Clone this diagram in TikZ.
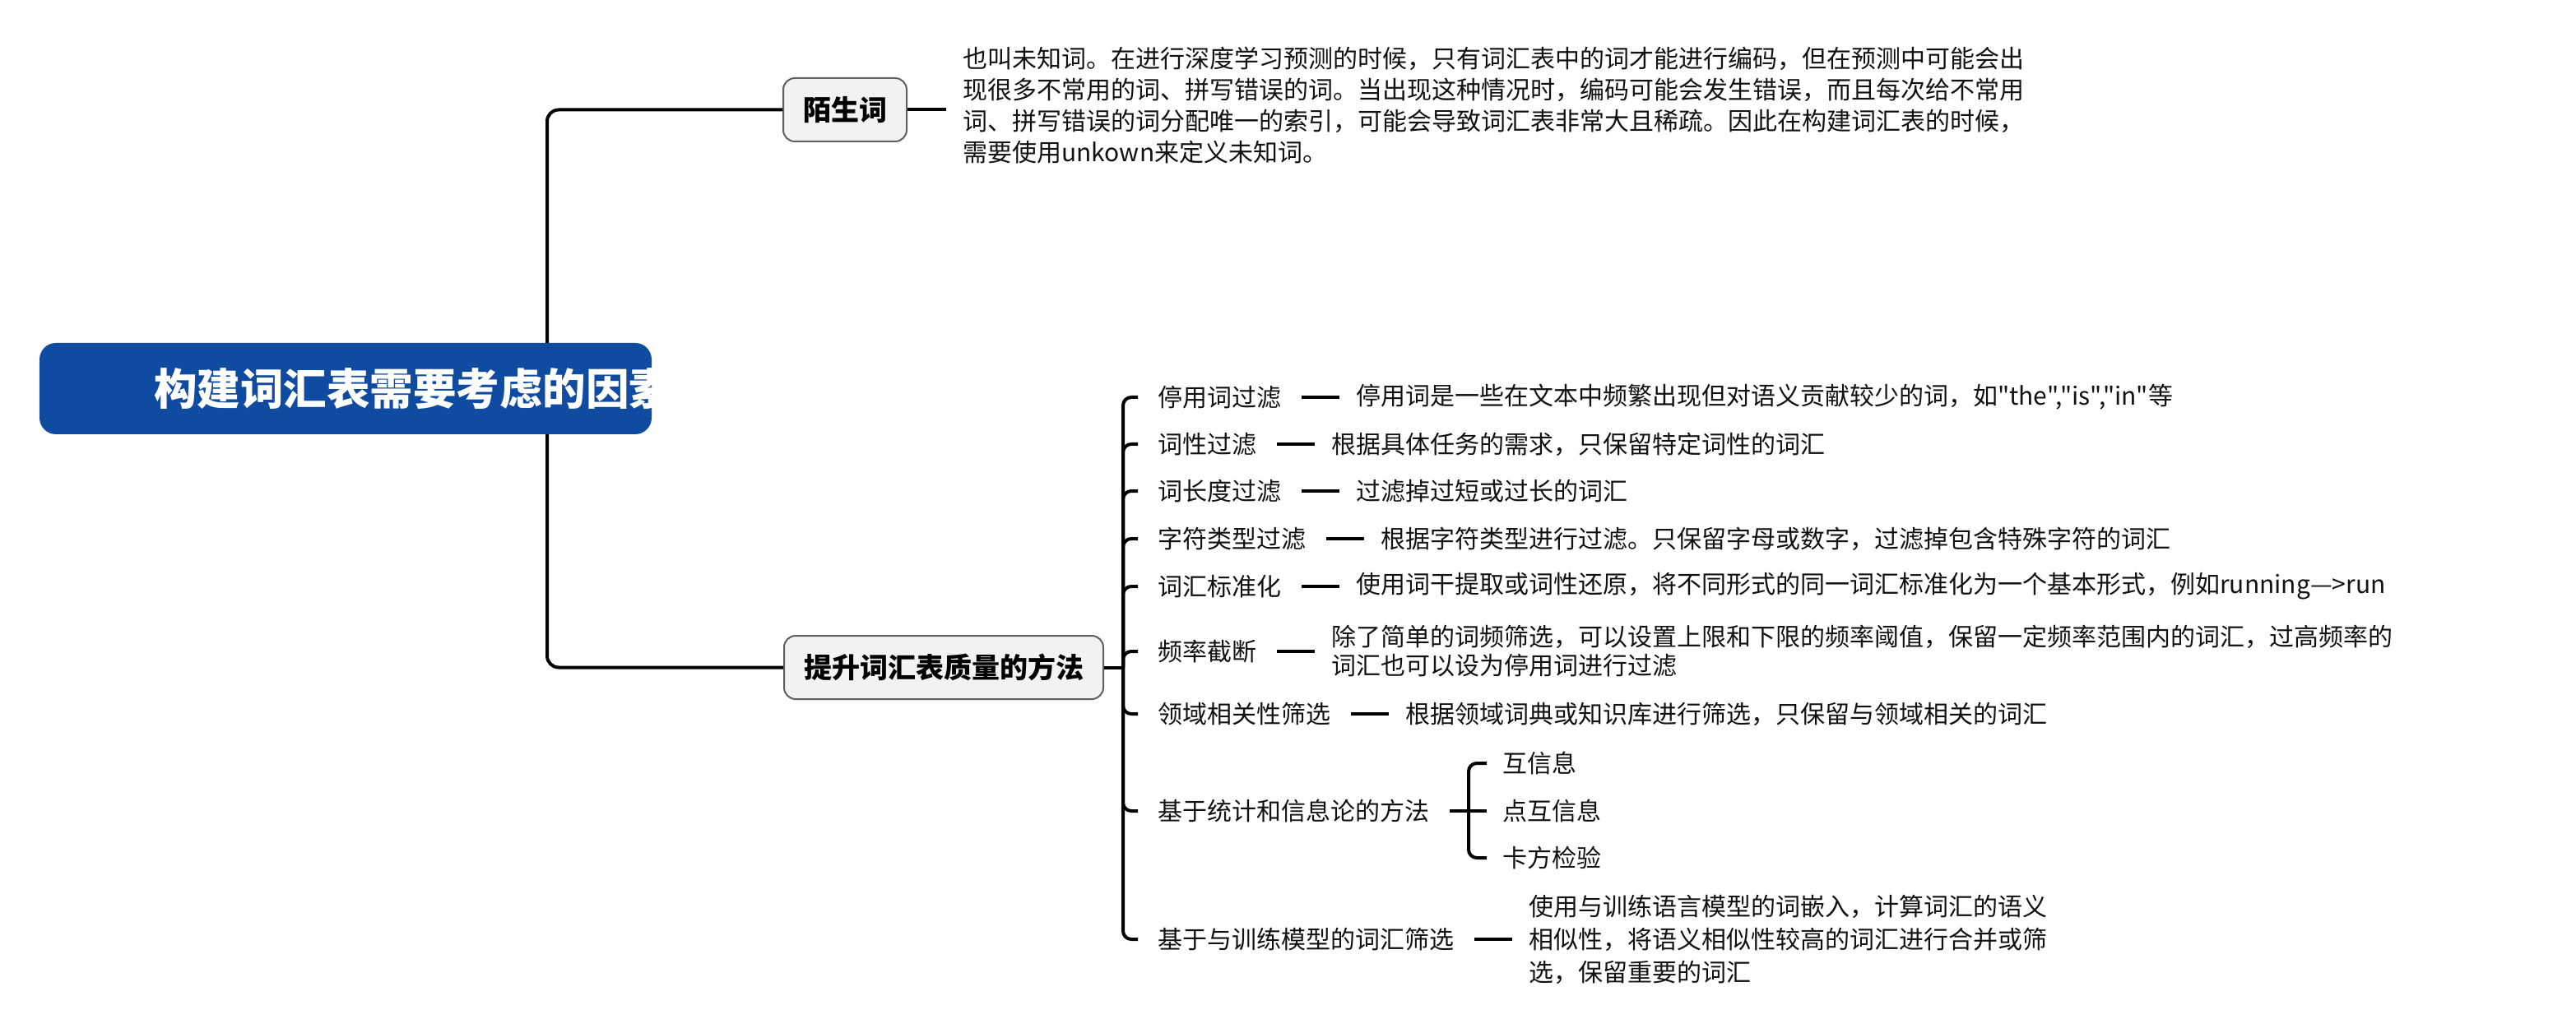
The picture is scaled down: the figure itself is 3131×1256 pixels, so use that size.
\documentclass[tikz,border=0pt]{standalone}
\usepackage{fontspec}
\setmainfont{Noto Sans CJK SC}[Ligatures=TeXOff]
\usetikzlibrary{positioning}
\definecolor{rootblue}{HTML}{0F4BA1}
\definecolor{boxfill}{HTML}{F2F2F2}
\definecolor{boxline}{HTML}{5F5F5F}
\definecolor{ink}{HTML}{111111}
\begin{document}
\begin{tikzpicture}[x=0.5pt,y=-0.5pt,
  conn/.style={line width=2pt, black},
  branchbox/.style={draw=boxline, line width=1pt, fill=boxfill, rounded corners=7pt,
    minimum height=38.5pt, inner xsep=12pt, text=black,
    font=\fontsize{17pt}{20pt}\selectfont\bfseries},
  rootbox/.style={fill=rootblue, rounded corners=10pt, inner sep=0pt,
    minimum width=372pt, minimum height=55.5pt},
  item/.style={anchor=west, inner xsep=12pt, inner ysep=2pt, text=ink,
    font=\fontsize{15pt}{18pt}\selectfont},
  desc/.style={inner xsep=10pt, inner ysep=2pt, align=left, text=ink,
    font=\fontsize{15pt}{19pt}\selectfont},
  subitem/.style={anchor=west, inner xsep=9.5pt, inner ysep=2pt, text=ink,
    font=\fontsize{15pt}{18pt}\selectfont},
]
\useasboundingbox (0,0) rectangle (3131,1256);

% level 1 branches
\node[branchbox] (strange) at (1027,133.5) {陌生词};
\node[branchbox] (improve) at (1147,811.5) {提升词汇表质量的方法};

\node[desc, anchor=west] (sdesc) at (1150,128.5) {也叫未知词。在进行深度学习预测的时候，只有词汇表中的词才能进行编码，但在预测中可能会出\\
现很多不常用的词、拼写错误的词。当出现这种情况时，编码可能会发生错误，而且每次给不常用\\
词、拼写错误的词分配唯一的索引，可能会导致词汇表非常大且稀疏。因此在构建词汇表的时候，\\
需要使用unkown来定义未知词。};

\coordinate (rootbus) at (665,472.5);
\draw[conn, rounded corners=7pt] (strange.west) -| (rootbus);
\draw[conn, rounded corners=7pt] (improve.west) -| (rootbus);
\draw[conn] (strange.east) -- (strange.east -| sdesc.west);

% level 2 items
\coordinate (bus) at (1365,811.5);
\draw[conn] (improve.east) -- (bus);

\node[item] (i1) at (1383,483) {停用词过滤};
\node[desc, right=23pt of i1] (d1) {停用词是一些在文本中频繁出现但对语义贡献较少的词，如"the","is","in"等};

\node[item] (i2) at (1383,540) {词性过滤};
\node[desc, right=23pt of i2] (d2) {根据具体任务的需求，只保留特定词性的词汇};

\node[item] (i3) at (1383,597) {词长度过滤};
\node[desc, right=23pt of i3] (d3) {过滤掉过短或过长的词汇};

\node[item] (i4) at (1383,655) {字符类型过滤};
\node[desc, right=23pt of i4] (d4) {根据字符类型进行过滤。只保留字母或数字，过滤掉包含特殊字符的词汇};

\node[item] (i5) at (1383,713) {词汇标准化};
\node[desc, right=23pt of i5] (d5) {使用词干提取或词性还原，将不同形式的同一词汇标准化为一个基本形式，例如running—>run};

\node[item] (i6) at (1383,792) {频率截断};
\node[desc, right=23pt of i6, font=\fontsize{15pt}{17.5pt}\selectfont] (d6) {除了简单的词频筛选，可以设置上限和下限的频率阈值，保留一定频率范围内的词汇，过高频率的\\
词汇也可以设为停用词进行过滤};

\node[item] (i7) at (1383,868) {领域相关性筛选};
\node[desc, right=23pt of i7] (d7) {根据领域词典或知识库进行筛选，只保留与领域相关的词汇};

\node[item] (i8) at (1383,986) {基于统计和信息论的方法};

\node[item] (i9) at (1383,1142) {基于与训练模型的词汇筛选};
\node[desc, right=23pt of i9, font=\fontsize{15pt}{20pt}\selectfont] (d9) {使用与训练语言模型的词嵌入，计算词汇的语义\\
相似性，将语义相似性较高的词汇进行合并或筛\\
选，保留重要的词汇};

\foreach \n in {1,...,9}{
  \draw[conn, rounded corners=5pt] (bus) |- (i\n.west);
}
\foreach \n in {1,2,3,4,5,6,7,9}{
  \draw[conn] (i\n.east) -- (d\n.west);
}

% level 3 items
\coordinate (sbus) at (1785,986);
\draw[conn] (i8.east) -- (sbus);
\node[subitem] (s1) at (1807,928) {互信息};
\node[subitem] (s2) at (1807,986) {点互信息};
\node[subitem] (s3) at (1807,1043) {卡方检验};
\draw[conn, rounded corners=5pt] (sbus) |- (s1.west);
\draw[conn] (sbus) -- (s2.west);
\draw[conn, rounded corners=5pt] (sbus) |- (s3.west);

% root (drawn last so it covers the trunk line)
\node[rootbox] (root) at (420,472.5) {};
\begin{scope}
  \clip[rounded corners=10pt] (root.south west) rectangle (root.north east);
  \node[anchor=west, inner sep=0pt, text=white,
    font=\fontsize{26.25pt}{30pt}\selectfont\bfseries] (roottext) at (187,473) {构建词汇表需要考虑的因素};
\end{scope}
\end{tikzpicture}
\end{document}
